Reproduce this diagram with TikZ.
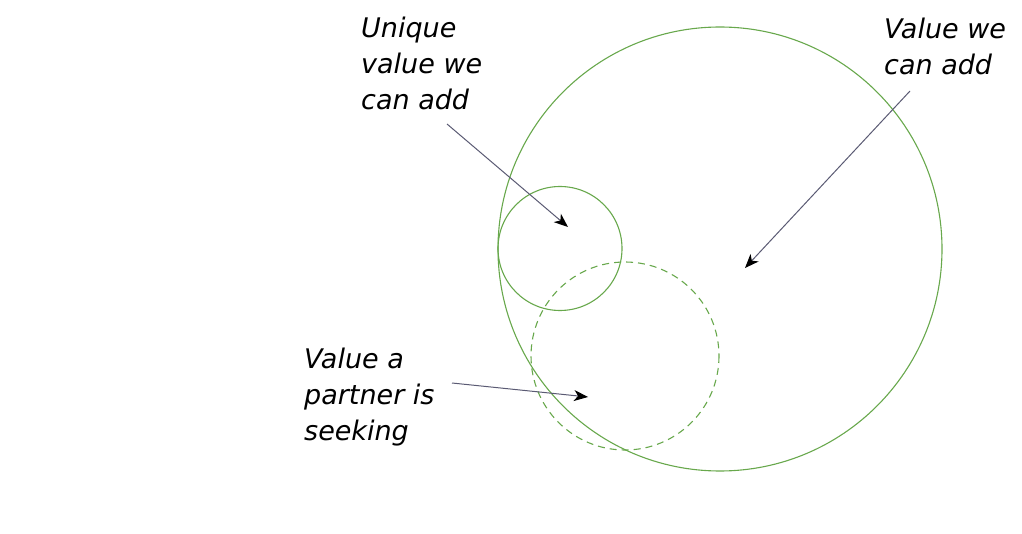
\documentclass[tikz,border=0pt]{standalone}
\usepackage{fontspec}
\setmainfont{DejaVu Sans}
\usetikzlibrary{arrows.meta}
\definecolor{cgreen}{RGB}{104,168,76}
\definecolor{carrow}{RGB}{90,90,115}
\begin{document}
\begin{tikzpicture}[x=1pt,y=-1pt,
  circ/.style={draw=cgreen,line width=1.1pt},
  lbl/.style={anchor=base west,align=left,inner sep=0pt,font=\fontsize{27}{36}\selectfont\itshape},
  pointer/.style={draw=carrow,line width=1pt,-{Stealth[length=14pt,width=11pt,inset=4pt,black]}}]
\useasboundingbox (0,0) rectangle (1022,534);
\draw[circ] (720,249) circle[radius=222];
\draw[circ] (560,248.5) circle[radius=62];
\draw[circ,dash pattern=on 7pt off 5pt] (625,356) circle[radius=94];
\node[lbl] (t1) at (361,110) {Unique\\value we\\can add};
\node[lbl] (t2) at (884,75) {Value we\\can add};
\node[lbl] (t3) at (304,440) {Value a\\partner is\\seeking};
\coordinate (s1) at (447,124); \coordinate (e1) at (568,227);
\coordinate (s2) at (910,91);  \coordinate (e2) at (745,268);
\coordinate (s3) at (452,383); \coordinate (e3) at (588,397);
\draw[pointer] (s1) -- (e1);
\draw[pointer] (s2) -- (e2);
\draw[pointer] (s3) -- (e3);
\end{tikzpicture}
\end{document}
